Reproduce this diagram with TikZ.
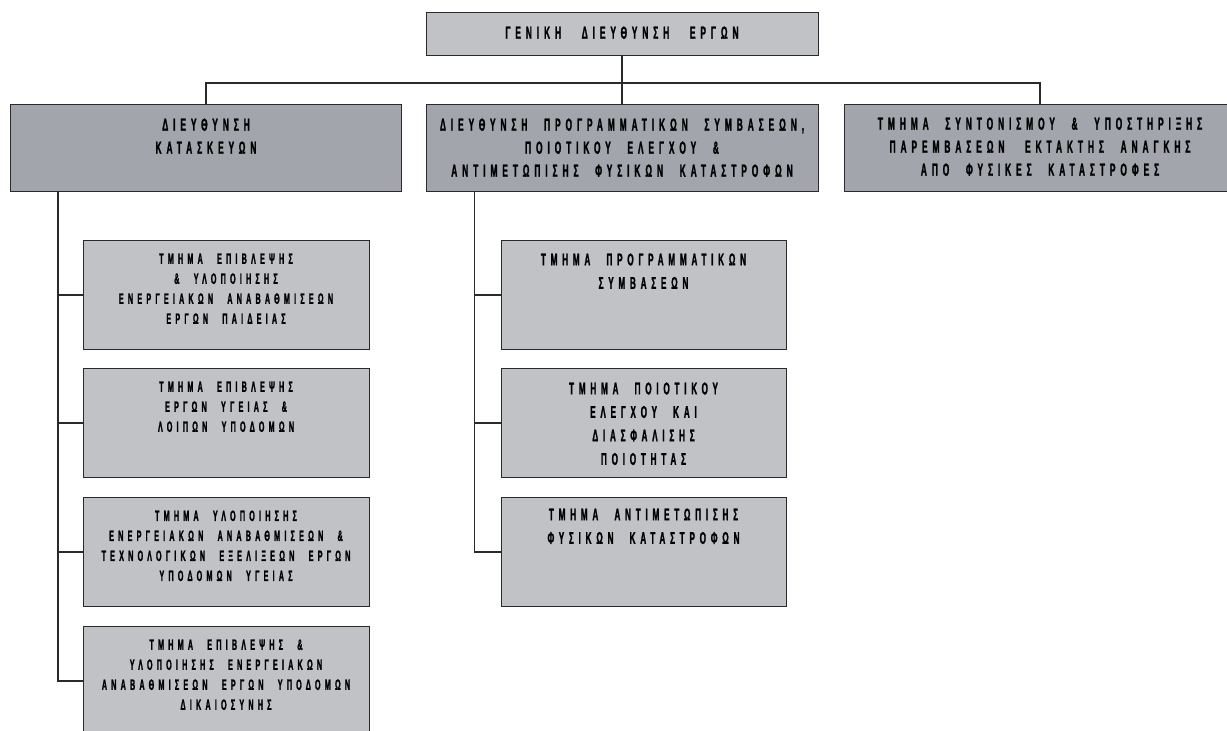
\documentclass[tikz,border=0pt]{standalone}
\usepackage{fontspec}
\newfontfamily\orgfont{Liberation Sans Bold}[FakeStretch=0.48,FakeBold=1.2,LetterSpace=28,WordSpace=2.3]
\usepackage{tikz}
\usetikzlibrary{positioning}

\definecolor{boxline}{HTML}{2A2A2C}
\definecolor{lightgrey}{HTML}{C1C2C6}
\definecolor{darkgrey}{HTML}{A2A5AB}

\newcommand{\orgtxt}[4]{\parbox[t][#1pt][t]{#2pt}{\centering\vspace*{#3pt}#4}}
\newcommand{\wgap}{\hspace{4pt} }

\tikzset{
	topbox/.style={draw=boxline, line width=1pt, fill=lightgrey, inner sep=0pt, anchor=north,
		font=\orgfont\fontsize{17.5}{23}\selectfont},
	dirbox/.style={topbox, fill=darkgrey},
	dptbox/.style={topbox, font=\orgfont\fontsize{15}{20}\selectfont},
	dptboxb/.style={topbox, font=\orgfont\fontsize{17}{23.5}\selectfont},
	link/.style={draw=boxline, line width=1.3pt}
}

\begin{document}
\begin{tikzpicture}[x=1pt,y=-1pt]
	\useasboundingbox (0,0) rectangle (1227,731);
	% head
	\node[topbox] (gen) at (622,12) {\orgtxt{43}{392}{14}{ΓΕΝΙΚΗ\wgap ΔΙΕΥΘΥΝΣΗ\wgap ΕΡΓΩΝ}};
	% directorates
	\node[dirbox] (dirA) at (206,104) {\orgtxt{87}{391}{14}{ΔΙΕΥΘΥΝΣΗ\\ΚΑΤΑΣΚΕΥΩΝ}};
	\node[dirbox] (dirB) at (622,104) {\orgtxt{87}{392}{14}{ΔΙΕΥΘΥΝΣΗ ΠΡΟΓΡΑΜΜΑΤΙΚΩΝ ΣΥΜΒΑΣΕΩΝ,\\ΠΟΙΟΤΙΚΟΥ ΕΛΕΓΧΟΥ \&\\ΑΝΤΙΜΕΤΩΠΙΣΗΣ ΦΥΣΙΚΩΝ ΚΑΤΑΣΤΡΟΦΩΝ}};
	\node[dirbox] (dirC) at (1040,104) {\orgtxt{87}{392}{13}{ΤΜΗΜΑ ΣΥΝΤΟΝΙΣΜΟΥ \& ΥΠΟΣΤΗΡΙΞΗΣ\\ΠΑΡΕΜΒΑΣΕΩΝ\wgap ΕΚΤΑΚΤΗΣ ΑΝΑΓΚΗΣ\\ΑΠΟ ΦΥΣΙΚΕΣ ΚΑΤΑΣΤΡΟΦΕΣ}};
	% departments under dirA
	\node[dptbox] (dptA1) at (226,240) {\orgtxt{109}{286}{13}{ΤΜΗΜΑ ΕΠΙΒΛΕΨΗΣ\\\& ΥΛΟΠΟΙΗΣΗΣ\\ΕΝΕΡΓΕΙΑΚΩΝ ΑΝΑΒΑΘΜΙΣΕΩΝ\\ΕΡΓΩΝ ΠΑΙΔΕΙΑΣ}};
	\node[dptbox] (dptA2) at (226,368) {\orgtxt{109}{286}{13}{ΤΜΗΜΑ ΕΠΙΒΛΕΨΗΣ\\ΕΡΓΩΝ ΥΓΕΙΑΣ \&\\ΛΟΙΠΩΝ ΥΠΟΔΟΜΩΝ}};
	\node[dptbox] (dptA3) at (226,497) {\orgtxt{109}{286}{13}{ΤΜΗΜΑ ΥΛΟΠΟΙΗΣΗΣ\\ΕΝΕΡΓΕΙΑΚΩΝ ΑΝΑΒΑΘΜΙΣΕΩΝ \&\\ΤΕΧΝΟΛΟΓΙΚΩΝ ΕΞΕΛΙΞΕΩΝ ΕΡΓΩΝ\\ΥΠΟΔΟΜΩΝ ΥΓΕΙΑΣ}};
	\node[dptbox] (dptA4) at (226,626) {\orgtxt{109}{286}{13}{ΤΜΗΜΑ ΕΠΙΒΛΕΨΗΣ \&\\ΥΛΟΠΟΙΗΣΗΣ ΕΝΕΡΓΕΙΑΚΩΝ\\ΑΝΑΒΑΘΜΙΣΕΩΝ ΕΡΓΩΝ ΥΠΟΔΟΜΩΝ\\ΔΙΚΑΙΟΣΥΝΗΣ}};
	% departments under dirB
	\node[dptboxb] (dptB1) at (643.5,240) {\orgtxt{109}{285}{13}{ΤΜΗΜΑ ΠΡΟΓΡΑΜΜΑΤΙΚΩΝ\\ΣΥΜΒΑΣΕΩΝ}};
	\node[dptboxb] (dptB2) at (643.5,368) {\orgtxt{109}{285}{14}{ΤΜΗΜΑ ΠΟΙΟΤΙΚΟΥ\\ΕΛΕΓΧΟΥ ΚΑΙ\\ΔΙΑΣΦΑΛΙΣΗΣ\\ΠΟΙΟΤΗΤΑΣ}};
	\node[dptboxb] (dptB3) at (643.5,497) {\orgtxt{109}{285}{11}{ΤΜΗΜΑ ΑΝΤΙΜΕΤΩΠΙΣΗΣ\\ΦΥΣΙΚΩΝ ΚΑΤΑΣΤΡΟΦΩΝ}};
	% connectors
	\path (gen.south) ++(0,27) coordinate(bus)
	(dirA.south west) ++(48,0) coordinate(spA)
	(dirB.south west) ++(49,0) coordinate(spB);
	\draw[link] (gen.south) -- (bus);
	\draw[link] (dirA.north) |- (bus) -| (dirC.north);
	\draw[link] (bus) -- (dirB.north);
	\draw[link] (spA) |- (dptA4.west);
	\draw[link] (spA |- dptA1.west) -- (dptA1.west);
	\draw[link] (spA |- dptA2.west) -- (dptA2.west);
	\draw[link] (spA |- dptA3.west) -- (dptA3.west);
	\draw[link] (spB) |- (dptB3.west);
	\draw[link] (spB |- dptB1.west) -- (dptB1.west);
	\draw[link] (spB |- dptB2.west) -- (dptB2.west);
\end{tikzpicture}
\end{document}
